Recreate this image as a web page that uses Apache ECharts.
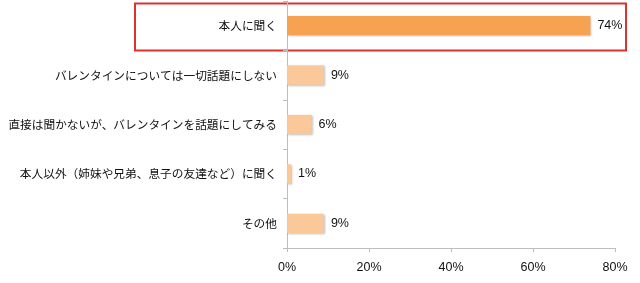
<!DOCTYPE html>
<html><head><meta charset="utf-8">
<script src="https://cdn.jsdelivr.net/npm/echarts@6/dist/echarts.min.js"></script>
<style>html,body{margin:0;padding:0;background:#fff}#c{width:640px;height:283px}</style>
</head><body><div id="c"></div>
<script>
const categories = ['本人に聞く','バレンタインについては一切話題にしない','直接は聞かないが、バレンタインを話題にしてみる','本人以外（姉妹や兄弟、息子の友達など）に聞く','その他'];
const values = [74, 9, 6, 1, 9];
const xTicks = [0, 20, 40, 60, 80];
const highlightIndex = 0;

const chart = echarts.init(document.getElementById('c'), null, {renderer:'canvas'});
const font = '"Noto Sans CJK JP", "Noto Sans", sans-serif';
const numFont = '"Liberation Sans", Arial, sans-serif';
chart.setOption({
  animation:false,
  grid:{left:287, right:25, top:1, bottom:35, containLabel:false},
  xAxis:{type:'value', min:xTicks[0], max:xTicks[xTicks.length-1], interval:20,
    axisLine:{show:true, lineStyle:{color:'#bdbdbd'}},
    axisTick:{show:true, length:4, lineStyle:{color:'#bdbdbd'}},
    splitLine:{show:false},
    axisLabel:{formatter:'{value}%', color:'#111', fontSize:12.5, fontFamily:numFont, margin:13}},
  yAxis:{type:'category', inverse:true, data:categories,
    axisLine:{show:true, lineStyle:{color:'#bdbdbd'}},
    axisTick:{show:true, length:4, lineStyle:{color:'#bdbdbd'}},
    axisLabel:{color:'#111', fontSize:11.7, fontFamily:font, margin:10}},
  series:[{type:'bar', data:values.map((v,i)=>({value:v, itemStyle:{color: i===highlightIndex ? '#F6A250' : '#FBC89A'}})),
    barCategoryGap:'61%',
    itemStyle:{shadowColor:'rgba(0,0,0,0.25)', shadowBlur:2, shadowOffsetX:1, shadowOffsetY:1},
    label:{show:true, position:'right', formatter:'{c}%', color:'#111', fontSize:12.5, fontFamily:numFont, distance:7}}]
});
// highlight frame around the first category row
const p0 = chart.convertToPixel({yAxisIndex:0}, categories[highlightIndex]);
const p1 = chart.convertToPixel({yAxisIndex:0}, categories[highlightIndex+1]);
const band = p1 - p0;
chart.setOption({graphic:[{type:'rect', shape:{x:135, y:p0-band/2+2.5, width:491, height:band-2.5},
  style:{fill:'none', stroke:'#D9332B', lineWidth:2}}]});
</script></body></html>
